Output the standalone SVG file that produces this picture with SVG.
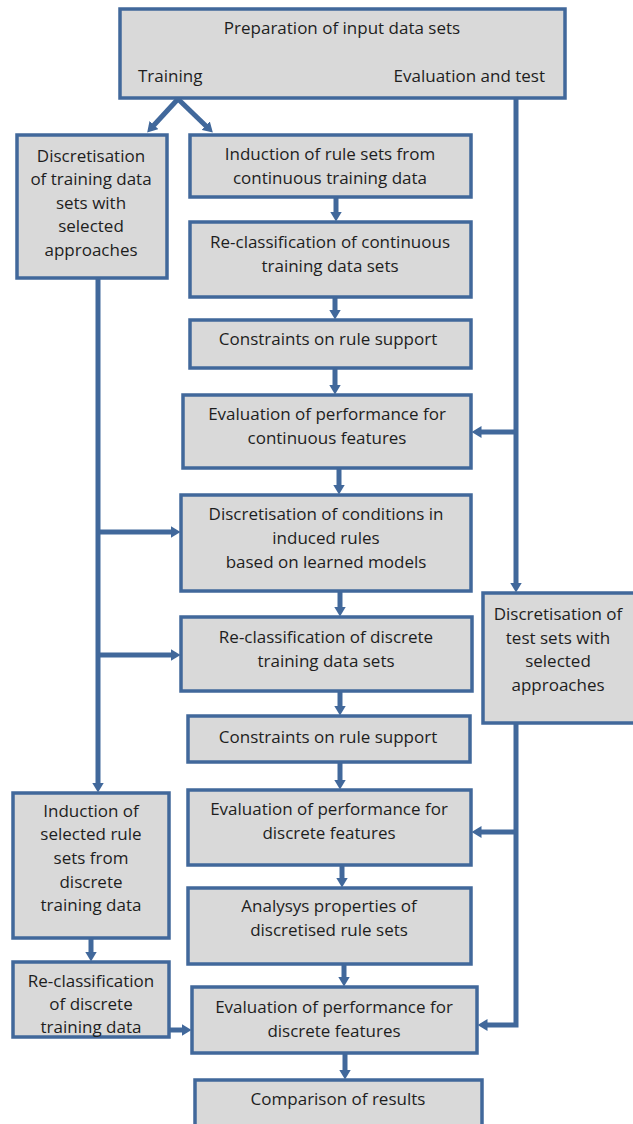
<svg xmlns="http://www.w3.org/2000/svg" width="633" height="1124" viewBox="0 0 633 1124">
<style>
.box{fill:#d9d9d9;stroke:#41689b;stroke-width:3.5}
.t{font-family:"Open Sans","Liberation Sans",Arial,sans-serif;font-size:17px;fill:#1e1e1e;text-anchor:middle}
.c{fill:none;stroke:#41689b;stroke-width:5;marker-end:url(#ah)}
</style>
<defs>
<marker id="ah" viewBox="0 0 10 12" markerWidth="10" markerHeight="12" refX="0.5" refY="6" orient="auto" markerUnits="userSpaceOnUse">
<path d="M0,0 L10,6 L0,12 z" fill="#41689b"/>
</marker>
</defs>
<rect width="633" height="1124" fill="#ffffff"/>
<g id="connectors">
<line class="c" x1="178" y1="99" x2="153.6" y2="125.5"/>
<line class="c" x1="178" y1="99" x2="206" y2="126"/>
<path class="c" d="M98,278 V783"/>
<path class="c" d="M98,532 H171"/>
<path class="c" d="M98,655 H171"/>
<path class="c" d="M91,938 V952"/>
<path class="c" d="M169,1030 H182"/>
<path class="c" d="M336,197 V212"/>
<path class="c" d="M335,297 V310"/>
<path class="c" d="M335,368 V385"/>
<path class="c" d="M339,468 V485"/>
<path class="c" d="M340,591 V607"/>
<path class="c" d="M340,691 V706"/>
<path class="c" d="M340,762 V780"/>
<path class="c" d="M342,865 V878"/>
<path class="c" d="M344,964 V977"/>
<path class="c" d="M345,1053 V1070"/>
<path class="c" d="M516,98 V583"/>
<path class="c" d="M516,432 H481"/>
<path class="c" d="M516,723 V1025 H487"/>
<path class="c" d="M516,832 H481"/>
</g>
<g id="prep">
<rect class="box" x="120" y="9" width="445" height="89"/>
<text class="t" x="342" y="34">Preparation of input data sets</text>
<text class="t" x="138" y="82" style="text-anchor:start">Training</text>
<text class="t" x="545" y="82" style="text-anchor:end">Evaluation and test</text>
</g>
<g id="disc-train">
<rect class="box" x="17" y="135" width="150" height="143"/>
<text class="t" x="91" y="162">Discretisation</text>
<text class="t" x="91" y="185">of training data</text>
<text class="t" x="91" y="209">sets with</text>
<text class="t" x="91" y="232">selected</text>
<text class="t" x="91" y="256">approaches</text>
</g>
<g id="induction-cont">
<rect class="box" x="190" y="135" width="281" height="62"/>
<text class="t" x="330" y="160">Induction of rule sets from</text>
<text class="t" x="330" y="184">continuous training data</text>
</g>
<g id="reclass-cont">
<rect class="box" x="190" y="222" width="281" height="75"/>
<text class="t" x="330" y="248">Re-classification of continuous</text>
<text class="t" x="330" y="272">training data sets</text>
</g>
<g id="constraints-1">
<rect class="box" x="190" y="320" width="281" height="48"/>
<text class="t" x="328" y="345">Constraints on rule support</text>
</g>
<g id="eval-cont">
<rect class="box" x="183" y="395" width="288" height="73"/>
<text class="t" x="327" y="420">Evaluation of performance for</text>
<text class="t" x="327" y="444">continuous features</text>
</g>
<g id="disc-cond">
<rect class="box" x="181" y="495" width="290" height="96"/>
<text class="t" x="326" y="520">Discretisation of conditions in</text>
<text class="t" x="326" y="544">induced rules</text>
<text class="t" x="326" y="568">based on learned models</text>
</g>
<g id="reclass-disc">
<rect class="box" x="181" y="617" width="291" height="74"/>
<text class="t" x="326" y="643">Re-classification of discrete</text>
<text class="t" x="326" y="667">training data sets</text>
</g>
<g id="constraints-2">
<rect class="box" x="188" y="716" width="282" height="46"/>
<text class="t" x="328" y="743">Constraints on rule support</text>
</g>
<g id="eval-disc-1">
<rect class="box" x="188" y="790" width="283" height="75"/>
<text class="t" x="329" y="815">Evaluation of performance for</text>
<text class="t" x="329" y="839">discrete features</text>
</g>
<g id="analysys">
<rect class="box" x="188" y="888" width="283" height="76"/>
<text class="t" x="329" y="912">Analysys properties of</text>
<text class="t" x="329" y="936">discretised rule sets</text>
</g>
<g id="eval-disc-2">
<rect class="box" x="192" y="987" width="285" height="66"/>
<text class="t" x="334" y="1013">Evaluation of performance for</text>
<text class="t" x="334" y="1037">discrete features</text>
</g>
<g id="comparison">
<rect class="box" x="195" y="1080" width="287" height="60"/>
<text class="t" x="338" y="1105">Comparison of results</text>
</g>
<g id="disc-test">
<rect class="box" x="483" y="593" width="170" height="130"/>
<text class="t" x="558" y="620">Discretisation of</text>
<text class="t" x="558" y="644">test sets with</text>
<text class="t" x="558" y="667">selected</text>
<text class="t" x="558" y="691">approaches</text>
</g>
<g id="induction-sel">
<rect class="box" x="13" y="793" width="156" height="145"/>
<text class="t" x="91" y="817">Induction of</text>
<text class="t" x="91" y="840">selected rule</text>
<text class="t" x="91" y="864">sets from</text>
<text class="t" x="91" y="888">discrete</text>
<text class="t" x="91" y="911">training data</text>
</g>
<g id="reclass-sel">
<rect class="box" x="13" y="962" width="156" height="75"/>
<text class="t" x="91" y="987">Re-classification</text>
<text class="t" x="91" y="1010">of discrete</text>
<text class="t" x="91" y="1033">training data</text>
</g>
</svg>
